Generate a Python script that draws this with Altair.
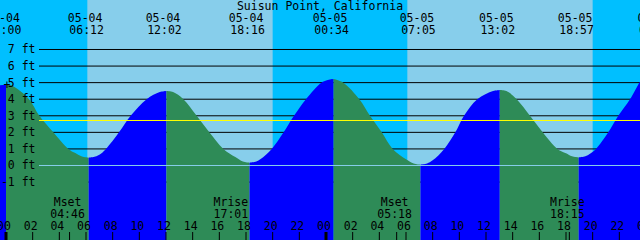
import altair as alt
import pandas as pd

# ---------------- data ----------------
title_text = "Suisun Point, California"

# hours after 05-04 00:00, water level in ft
tide_hours = [-0.45, 0.0, 0.5, 1.725, 2.5, 3.55, 4.67, 5.2, 5.7, 6.2, 6.7, 7.0,
              7.5, 8.475, 9.35, 10.55, 11.53, 12.033, 12.53, 13.3, 14.3, 15.25,
              16.3, 17.2, 17.77, 18.267, 18.77, 19.1, 19.93, 20.82, 21.6, 22.5, 23.65, 24.07,
              24.567, 25.3, 26.5, 27.3, 28.18, 29.0, 30.0, 30.58, 31.083, 31.58, 32.0, 32.87,
              33.7, 34.35, 35.35, 36.53, 37.033, 37.53, 38.3, 39.3, 40.25, 41.35, 42.0,
              42.45, 42.95, 43.45, 43.8, 44.25, 45.17, 45.92, 46.8, 47.5, 47.55]
tide_ft = [4.84, 4.87, 4.80, 4.0, 3.0, 2.0, 1.0, 0.75, 0.54, 0.47, 0.54, 0.65,
           1.0, 2.0, 3.0, 4.0, 4.43, 4.50, 4.43, 4.0, 3.0, 2.0,
           1.0, 0.51, 0.24, 0.17, 0.24, 0.39, 1.0, 2.0, 3.0, 4.0, 5.0, 5.15,
           5.22, 5.0, 4.0, 3.0, 2.0, 1.0, 0.38, 0.12, 0.05, 0.12, 0.31, 1.0,
           2.0, 3.0, 4.0, 4.49, 4.56, 4.49, 4.0, 3.0, 2.0, 1.0, 0.74,
           0.56, 0.49, 0.56, 0.71, 1.0, 2.0, 3.0, 4.0, 5.0, 5.05]

event_hours = [0.0, 6.2, 12.033, 18.267, 24.567, 31.083, 37.033, 42.95, 48.92]
event_dates = ["05-04", "05-04", "05-04", "05-04", "05-05", "05-05", "05-05", "05-05", "05-06"]
event_times = ["00:00", "06:12", "12:02", "18:16", "00:34", "07:05", "13:02", "18:57", "00:55"]

sunrise_hours = [6.1, 30.1]
sunset_hours = [20.0, 44.0]

moon_hours = [4.767, 17.017, 29.3, 42.25]
moon_names = ["Mset", "Mrise", "Mset", "Mrise"]
moon_times = ["04:46", "17:01", "05:18", "18:15"]
moon_tick_hours = [4.767, 29.3, 42.25]

hour_marks = list(range(0, 49, 2))
hour_labels = ["%02d" % (h % 24) for h in hour_marks]
midnight_hours = [0, 24]

level_ft = [-1, 1, 2, 3, 4, 5, 6, 7]
label_ft = [7, 6, 5, 4, 3, 2, 1, 0, -1]
label_text = ["%d ft" % v for v in label_ft]
datum_ft = [0]
mean_ft = [2.716]

plus_hour = [0.0]
plus_ft = [4.87]

# ---------------- frames ----------------
X_DOM = [-0.45, 47.55]
Y_DOM = [-4.496, 9.987]
FONT = "DejaVu Sans Mono"
FS = 11.5

tide = pd.DataFrame({"h": tide_hours, "ft": tide_ft})
edges = [X_DOM[0]] + event_hours[:-1] + [X_DOM[1]]
rows = []
for i in range(len(edges) - 1):
    a, b = edges[i], edges[i + 1]
    seg = tide[(tide.h >= a - 1e-6) & (tide.h <= b + 1e-6)]
    phase = "rising" if seg.ft.iloc[-1] > seg.ft.iloc[0] else "falling"
    for hv, fv in zip(seg.h.tolist(), seg.ft.tolist()):
        rows.append({"h": float(hv), "ft": float(fv), "base": Y_DOM[0],
                     "seg": "s%d" % i, "phase": phase})
tide_seg = pd.DataFrame(rows)

days = pd.DataFrame({"a": sunrise_hours, "b": sunset_hours})
events = pd.DataFrame({"h": event_hours, "d": event_dates, "t": event_times})
moons = pd.DataFrame({"h": moon_hours, "n": moon_names, "t": moon_times})
hours = pd.DataFrame({"h": hour_marks, "l": hour_labels})
mticks = pd.DataFrame({"h": moon_tick_hours})
mid = pd.DataFrame({"h": midnight_hours})
levels = pd.DataFrame({"ft": level_ft})
labels = pd.DataFrame({"ft": label_ft, "l": label_text})
datum = pd.DataFrame({"ft": datum_ft})
mean = pd.DataFrame({"ft": mean_ft})
plus = pd.DataFrame({"h": plus_hour, "ft": plus_ft, "s": ["+"]})
ttl = pd.DataFrame({"s": [title_text]})

xs = alt.Scale(domain=X_DOM, nice=False, zero=False)
ys = alt.Scale(domain=Y_DOM, nice=False, zero=False)
X = lambda f: alt.X(f, type="quantitative", scale=xs, axis=None)
Y = lambda f: alt.Y(f, type="quantitative", scale=ys, axis=None)

day_layer = alt.Chart(days).mark_rect(color="#87CEEB").encode(
    x=X("a"), x2="b", y=alt.value(0), y2=alt.value(240))

grid = alt.Chart(levels).mark_rule(color="black", strokeWidth=1).encode(
    x=alt.value(39), x2=alt.value(640), y=Y("ft"))

area = alt.Chart(tide_seg).mark_area(interpolate="catmull-rom", opacity=1).encode(
    x=X("h"),
    y=alt.Y("ft", type="quantitative", scale=ys, axis=None),
    y2=alt.Y2("base"),
    color=alt.Color("phase", type="nominal",
                    scale=alt.Scale(domain=["rising", "falling"],
                                    range=["#0000FF", "#2E8B57"]), legend=None),
    detail=alt.Detail("seg", type="nominal"))

datum_line = alt.Chart(datum).mark_rule(color="#87CEEB", strokeWidth=1).encode(
    x=alt.value(39), x2=alt.value(640), y=Y("ft"))
mean_line = alt.Chart(mean).mark_rule(color="#FFFF00", strokeWidth=1).encode(
    x=alt.value(39), x2=alt.value(640), y=Y("ft"))

ylab = alt.Chart(labels).mark_text(font=FONT, fontSize=FS, align="right",
                                   baseline="alphabetic", dy=4, color="black").encode(
    x=alt.value(35.5), y=Y("ft"), text="l:N")

title_l = alt.Chart(ttl).mark_text(font=FONT, fontSize=FS, align="center",
                                   baseline="alphabetic", color="black").encode(
    x=alt.value(320), y=alt.value(10), text="s:N")

date_l = alt.Chart(events).mark_text(font=FONT, fontSize=FS, align="center",
                                     baseline="alphabetic", dx=-3.5, color="black").encode(
    x=X("h"), y=alt.value(22), text="d:N")
time_l = alt.Chart(events).mark_text(font=FONT, fontSize=FS, align="center",
                                     baseline="alphabetic", dx=-2, color="black").encode(
    x=X("h"), y=alt.value(34), text="t:N")

moon_n = alt.Chart(moons).mark_text(font=FONT, fontSize=FS, align="center",
                                    baseline="alphabetic", dx=-2, color="black").encode(
    x=X("h"), y=alt.value(206), text="n:N")
moon_t = alt.Chart(moons).mark_text(font=FONT, fontSize=FS, align="center",
                                    baseline="alphabetic", dx=-2, color="black").encode(
    x=X("h"), y=alt.value(218), text="t:N")

hour_l = alt.Chart(hours).mark_text(font=FONT, fontSize=FS, align="center",
                                    baseline="alphabetic", dx=-2, color="black").encode(
    x=X("h"), y=alt.value(230), text="l:N")

hour_t = alt.Chart(hours).mark_rule(color="black", strokeWidth=1).encode(
    x=X("h"), y=alt.value(232), y2=alt.value(240))
moon_tk = alt.Chart(mticks).mark_rule(color="black", strokeWidth=1).encode(
    x=X("h"), y=alt.value(232), y2=alt.value(240))
mid_t = alt.Chart(mid).mark_rule(color="black", strokeWidth=3).encode(
    x=X("h"), y=alt.value(232), y2=alt.value(240))

plus_l = alt.Chart(plus).mark_text(font=FONT, fontSize=FS, align="center",
                                   baseline="alphabetic", dx=1, dy=4, color="black").encode(
    x=X("h"), y=Y("ft"), text="s:N")

chart = alt.layer(
    day_layer, grid, area, datum_line, mean_line, ylab, title_l, date_l, time_l,
    moon_n, moon_t, hour_l, hour_t, moon_tk, mid_t, plus_l
).properties(
    width=640, height=240, padding=0, background="#00BFFF",
    autosize=alt.AutoSizeParams(type="none")
).configure_view(stroke=None)

chart.save("out.html", embed_options={"renderer": "svg", "actions": False})
